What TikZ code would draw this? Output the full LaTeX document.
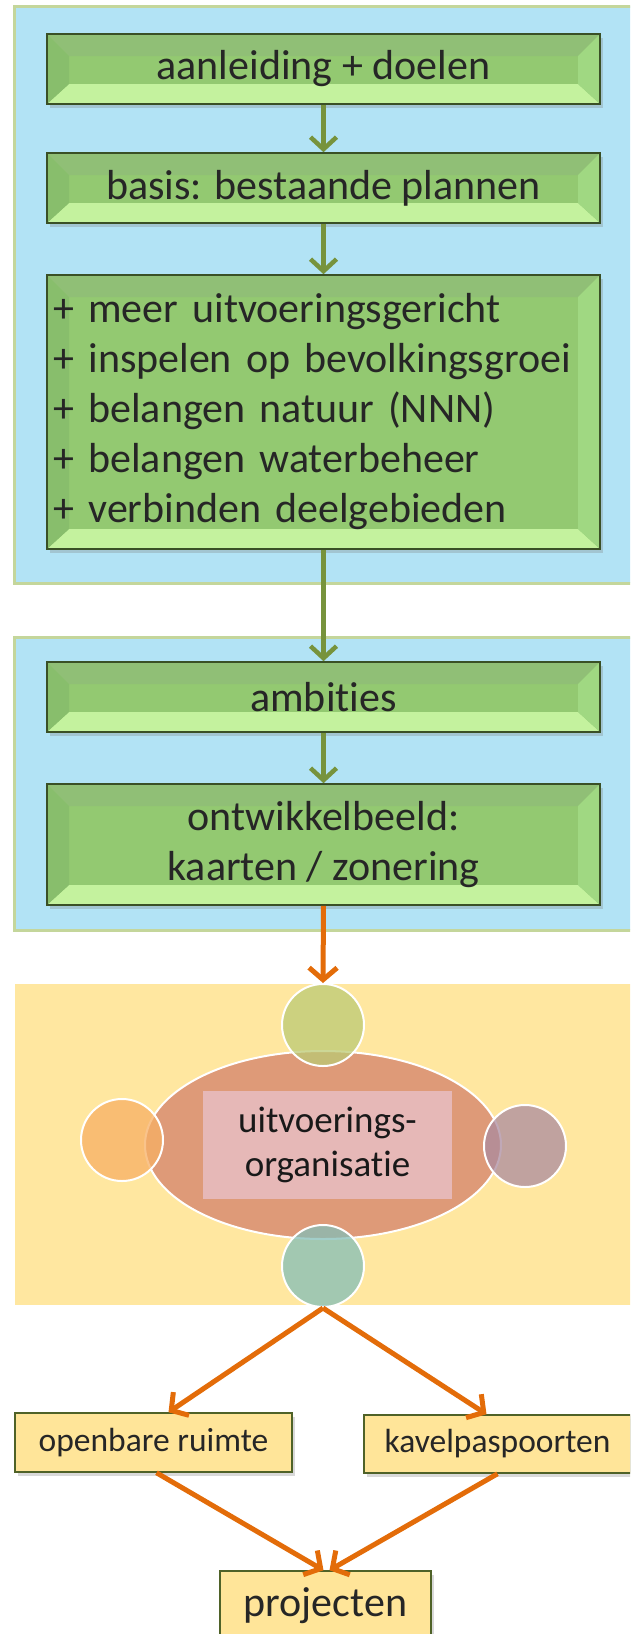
\documentclass[tikz,border=0pt]{standalone}
\usepackage{fontspec}
\setmainfont{Carlito}[Ligatures=NoCommon]
\usetikzlibrary{arrows.meta, shadows, shapes.geometric}

\definecolor{panelblue}{RGB}{178,227,245}
\definecolor{panelrim}{RGB}{196,214,155}
\definecolor{panelyellow}{RGB}{255,231,160}
\definecolor{boxface}{RGB}{147,201,113}
\definecolor{boxrim}{RGB}{58,80,38}
\definecolor{beveltop}{RGB}{144,191,118}
\definecolor{bevelbottom}{RGB}{196,242,158}
\definecolor{bevelleft}{RGB}{136,190,108}
\definecolor{bevelright}{RGB}{160,216,130}
\definecolor{greenarrow}{RGB}{119,147,60}
\definecolor{orangearrow}{RGB}{227,108,9}
\definecolor{labelrim}{RGB}{79,98,40}
\definecolor{labelfill}{RGB}{255,229,153}
\definecolor{ovalfill}{RGB}{222,154,120}
\definecolor{ovalcore}{RGB}{230,184,183}
\definecolor{ringtop}{RGB}{187,202,116}
\definecolor{ringleft}{RGB}{247,176,101}
\definecolor{ringright}{RGB}{171,139,159}
\definecolor{ringbottom}{RGB}{132,190,184}

\tikzset{
  bevelbox/.style={draw=boxrim, line width=1.6pt, fill=boxface, minimum width=553pt,
    inner sep=0pt, font=\fontsize{42}{50}\selectfont, text=black!85,
    drop shadow={shadow xshift=3pt, shadow yshift=-4pt, opacity=.3},
    path picture={
      \fill[beveltop] (path picture bounding box.north west) -- (path picture bounding box.north east)
        -- ([shift={(-22pt,-22pt)}]path picture bounding box.north east)
        -- ([shift={(22pt,-22pt)}]path picture bounding box.north west) -- cycle;
      \fill[bevelbottom] (path picture bounding box.south west) -- (path picture bounding box.south east)
        -- ([shift={(-22pt,20pt)}]path picture bounding box.south east)
        -- ([shift={(22pt,20pt)}]path picture bounding box.south west) -- cycle;
      \fill[bevelleft] (path picture bounding box.north west) -- ([shift={(22pt,-22pt)}]path picture bounding box.north west)
        -- ([shift={(22pt,20pt)}]path picture bounding box.south west) -- (path picture bounding box.south west) -- cycle;
      \fill[bevelright] (path picture bounding box.north east) -- ([shift={(-22pt,-22pt)}]path picture bounding box.north east)
        -- ([shift={(-22pt,20pt)}]path picture bounding box.south east) -- (path picture bounding box.south east) -- cycle;
    }},
  tagbox/.style={draw=labelrim, line width=1.5pt, fill=labelfill, inner sep=0pt,
    font=\fontsize{33.5}{40}\selectfont, text=black!85,
    drop shadow={shadow xshift=3pt, shadow yshift=-4pt, opacity=.3}},
  ring/.style={circle, minimum size=82pt, inner sep=0pt, draw=white, line width=2pt, fill opacity=.75},
  greenlink/.style={draw=greenarrow, line width=4.5pt, -{Straight Barb[length=12pt, width=26pt]}},
  orangelink/.style={draw=orangearrow, line width=5pt, -{Straight Barb[length=12pt, width=28pt]}}
}

\begin{document}
\begin{tikzpicture}[x=1pt, y=-1pt]
  \useasboundingbox (0,0) rectangle (630,1634);
  \clip (0,0) rectangle (630,1634);

  % panels
  \draw[fill=panelblue, draw=panelrim, line width=3pt] (14,6) rectangle (645,583);
  \draw[fill=panelblue, draw=panelrim, line width=3pt] (14,637) rectangle (645,930);
  \fill[panelyellow] (15,984) rectangle (645,1305);

  % plan steps
  \node[bevelbox, minimum height=70pt] (cause) at (323.5,69) {aanleiding + doelen};
  \node[bevelbox, minimum height=70pt] (basis) at (323.5,188) {basis: bestaande plannen};
  \node[bevelbox, minimum height=274pt, text width=540pt, align=left] (extra) at (323.5,412)
    {+ meer uitvoeringsgericht\\
     + inspelen op bevolkingsgroei\\
     + belangen natuur (NNN)\\
     + belangen waterbeheer\\
     + verbinden deelgebieden};
  \node[bevelbox, minimum height=70pt] (ambition) at (323.5,697) {ambities};
  \node[bevelbox, minimum height=121pt, align=center] (image) at (323.5,844.5)
    {ontwikkelbeeld:\\ kaarten / zonering};

  % organisation
  \node[ellipse, draw=white, line width=2pt, fill=ovalfill, minimum width=356pt, minimum height=188pt] (oval) at (323,1145) {};
  \node[fill=ovalcore, minimum width=249pt, minimum height=108pt, inner sep=0pt,
    font=\fontsize{37}{44}\selectfont, text=black!90, align=center] (core) at (327.5,1145) {uitvoerings-\\organisatie};
  \node[ring, fill=ringtop] (ringN) at (323,1025) {};
  \node[ring, fill=ringleft] (ringW) at (122,1140) {};
  \node[ring, fill=ringright] (ringE) at (525,1146) {};
  \node[ring, fill=ringbottom] (ringS) at (323,1266) {};

  % outputs
  \node[tagbox, minimum width=277pt, minimum height=59pt] (space) at (153.5,1442.5) {openbare ruimte};
  \node[tagbox, minimum width=267pt, minimum height=58pt] (plots) at (497.5,1444) {kavelpaspoorten};
  \node[tagbox, minimum width=211pt, minimum height=70pt, font=\fontsize{42}{50}\selectfont] (projects) at (325.5,1606) {projecten};

  % connectors
  \draw[greenlink] (cause) -- (basis);
  \draw[greenlink] (basis) -- (extra);
  \draw[greenlink] (extra) -- (ambition);
  \draw[greenlink] (ambition) -- (image);
  \draw[orangelink] (image.south) -- (ringN.north);
  \draw[orangelink] (ringS.south) -- ([xshift=15pt]space.north);
  \draw[orangelink] (ringS.south) -- ([xshift=-11pt]plots.north);
  \draw[orangelink] ([xshift=3pt]space.south) -- ([xshift=-2pt]projects.north);
  \draw[orangelink] (plots.south) -- ([xshift=4pt]projects.north);
\end{tikzpicture}
\end{document}
